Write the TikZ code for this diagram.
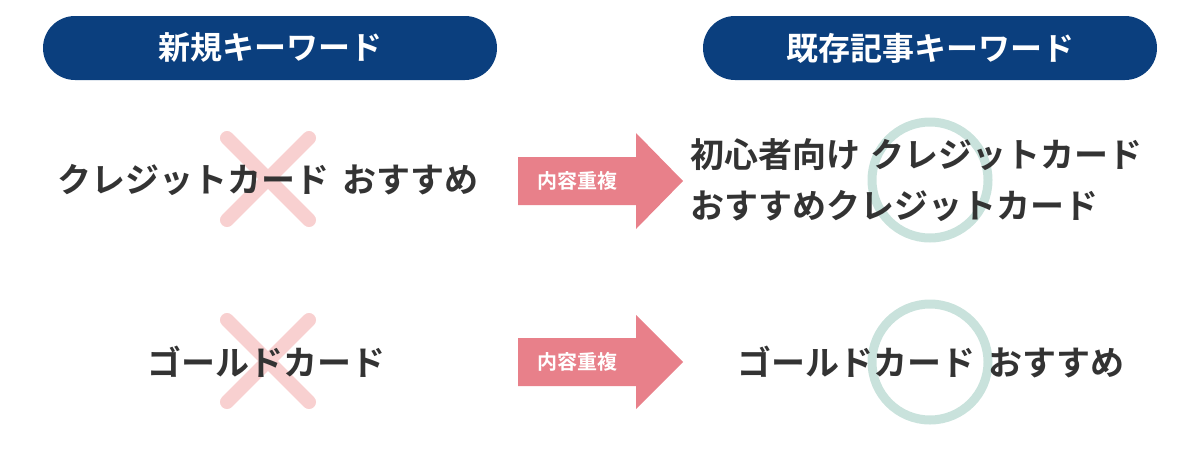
\documentclass[tikz,border=0pt]{standalone}
\usepackage{fontspec}
\setmainfont{Noto Sans CJK JP}[BoldFont={* Bold}]
\definecolor{navy}{HTML}{0B3F7E}
\definecolor{txt}{HTML}{333333}
\definecolor{xpink}{HTML}{F8D0D0}
\definecolor{arr}{HTML}{E8808A}
\definecolor{ring}{HTML}{C9E2DC}
\tikzset{
 pill/.style={fill=navy,rounded corners=16pt,minimum width=227pt,minimum height=32pt,text=white,font=\bfseries\fontsize{16}{18}\selectfont},
 word/.style={text=txt,font=\bfseries\fontsize{17}{20}\selectfont,inner sep=0pt},
 xline/.style={draw=xpink,line width=7pt,line cap=round},
 ringst/.style={draw=ring,line width=4.5pt,circle,minimum size=58pt},
 arrow/.style={fill=arr},
 arrtext/.style={text=white,font=\bfseries\fontsize{10}{12}\selectfont}
}
\begin{document}
\begin{tikzpicture}[x=0.5pt,y=-0.5pt]
\useasboundingbox (0,0) rectangle (1200,450);
\node[pill] (p1) at (270,48) {新規キーワード};
\node[pill] (p2) at (930,48) {既存記事キーワード};
% row 1
\draw[xline] (227,138) -- (309,220);
\draw[xline] (309,138) -- (227,220);
\node[word] (t1) at (268,180) {クレジットカード\hspace{0.4em}おすすめ};
\node[ringst] (c1) at (930,180) {};
\fill[arrow] (518,157) -- (636,157) -- (636,133) -- (683,181) -- (636,229) -- (636,205) -- (518,205) -- cycle;
\node[arrtext] (a1) at (577,181) {内容重複};
\node[word,anchor=west] (r1) at (690,155) {初心者向け\hspace{0.3em}クレジットカード};
\node[word,anchor=west] (r2) at (690,206) {おすすめクレジットカード};
% row 2
\draw[xline] (227,320) -- (309,402);
\draw[xline] (309,320) -- (227,402);
\node[word] (t2) at (266,362) {ゴールドカード};
\node[ringst] (c2) at (930,362) {};
\fill[arrow] (518,338) -- (636,338) -- (636,315) -- (683,362) -- (636,409) -- (636,386) -- (518,386) -- cycle;
\node[arrtext] (a2) at (577,362) {内容重複};
\node[word] (r3) at (931,362) {ゴールドカード\hspace{0.4em}おすすめ};
\end{tikzpicture}
\end{document}
